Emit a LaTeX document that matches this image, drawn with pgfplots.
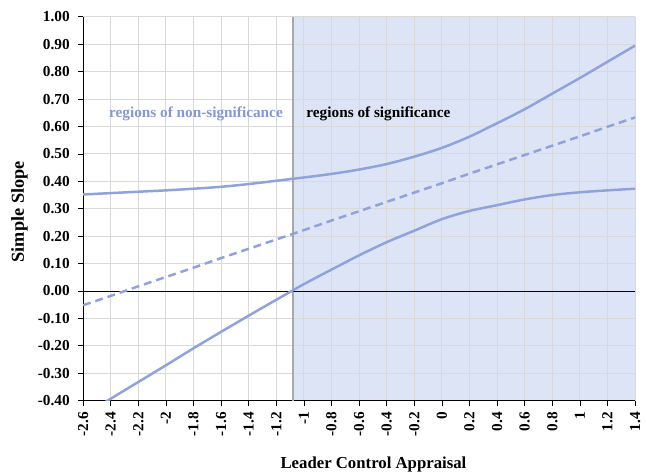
\documentclass[border=0pt]{standalone}
\usepackage{pgfplots}
\pgfplotsset{compat=1.18}
\usepackage{fontspec}
\setmainfont{Liberation Serif}
\definecolor{ln}{RGB}{142,162,220}
\definecolor{txtblue}{RGB}{134,152,212}
\definecolor{shade}{RGB}{142,165,222}
\definecolor{gridc}{RGB}{217,217,217}
\definecolor{vline}{RGB}{165,172,168}
\pgfplotstableread{
x upper slope lower
-2.6 0.352 -0.052 -0.455
-2.4 0.357 -0.018 -0.393
-2.2 0.362 0.017 -0.332
-2.0 0.367 0.051 -0.271
-1.8 0.373 0.085 -0.209
-1.6 0.380 0.120 -0.149
-1.4 0.390 0.154 -0.090
-1.2 0.402 0.188 -0.032
-1.0 0.414 0.222 0.025
-0.8 0.427 0.257 0.078
-0.6 0.443 0.291 0.130
-0.4 0.463 0.325 0.178
-0.2 0.490 0.359 0.220
0.0 0.522 0.393 0.262
0.2 0.563 0.428 0.292
0.4 0.612 0.462 0.313
0.6 0.663 0.496 0.334
0.8 0.720 0.530 0.350
1.0 0.777 0.564 0.360
1.2 0.836 0.599 0.367
1.4 0.895 0.633 0.373
}\datatable
\begin{document}
\begin{tikzpicture}
\begin{axis}[
  set layers,
  width=558bp, height=388bp, scale only axis,
  xmin=-2.6, xmax=1.4, ymin=-0.4, ymax=1.0,
  axis lines*=left,
  axis line style={black, line width=0.8bp},
  xtick={-2.6,-2.4,-2.2,-2,-1.8,-1.6,-1.4,-1.2,-1,-0.8,-0.6,-0.4,-0.2,0,0.2,0.4,0.6,0.8,1,1.2,1.4},
  xticklabels={-2.6,-2.4,-2.2,-2,-1.8,-1.6,-1.4,-1.2,-1,-0.8,-0.6,-0.4,-0.2,0,0.2,0.4,0.6,0.8,1,1.2,1.4},
  ytick={-0.4,-0.3,-0.2,-0.1,0,0.1,0.2,0.3,0.4,0.5,0.6,0.7,0.8,0.9,1.0},
  yticklabels={-0.40,-0.30,-0.20,-0.10,0.00,0.10,0.20,0.30,0.40,0.50,0.60,0.70,0.80,0.90,1.00},
  grid=major,
  major grid style={gridc, line width=0.9bp},
  tick align=outside,
  tick pos=left,
  major tick length=5bp,
  tick style={black, line width=0.8bp},
  ticklabel style={font=\bfseries\fontsize{15.5}{17}\selectfont},
  x tick label style={rotate=90, anchor=east},
  xticklabel shift=3bp,
  yticklabel shift=5bp,
  xlabel={Leader Control Appraisal},
  ylabel={Simple Slope},
  xlabel style={font=\bfseries\fontsize{17}{19}\selectfont, at={(axis description cs:0.526,-0.165)}, anchor=center},
  ylabel style={font=\bfseries\fontsize{18.5}{20}\selectfont, at={(axis description cs:-0.115,0.492)}, anchor=center},
  clip=true,
]
\addplot[draw=none, fill=shade, fill opacity=0.3, on layer=axis background] coordinates {(-1.08,-0.4) (1.4,-0.4) (1.4,1.0) (-1.08,1.0)} -- cycle;
\addplot[vline, line width=1.8bp] coordinates {(-1.08,-0.4) (-1.08,1.0)};
\addplot[black, line width=0.7bp] coordinates {(-2.6,0) (1.4,0)};
\addplot[ln, line width=2.5bp, smooth] table[x=x, y=upper] {\datatable};
\addplot[ln, line width=2.5bp, dash pattern=on 8bp off 5bp] table[x=x, y=slope] {\datatable};
\addplot[ln, line width=2.5bp, smooth] table[x=x, y=lower] {\datatable};
\node[anchor=west, text=txtblue, font=\bfseries\fontsize{15.5}{18}\selectfont, inner sep=0pt] at (axis cs:-2.413,0.647) {regions of non-significance};
\node[anchor=west, text=black, font=\bfseries\fontsize{15.5}{18}\selectfont, inner sep=0pt] at (axis cs:-0.983,0.647) {regions of significance};
\end{axis}
\pgfresetboundingbox
\path[use as bounding box] ([xshift=-84bp,yshift=-76bp]current axis.south west) rectangle ([xshift=11bp,yshift=17bp]current axis.north east);
\end{tikzpicture}
\end{document}
